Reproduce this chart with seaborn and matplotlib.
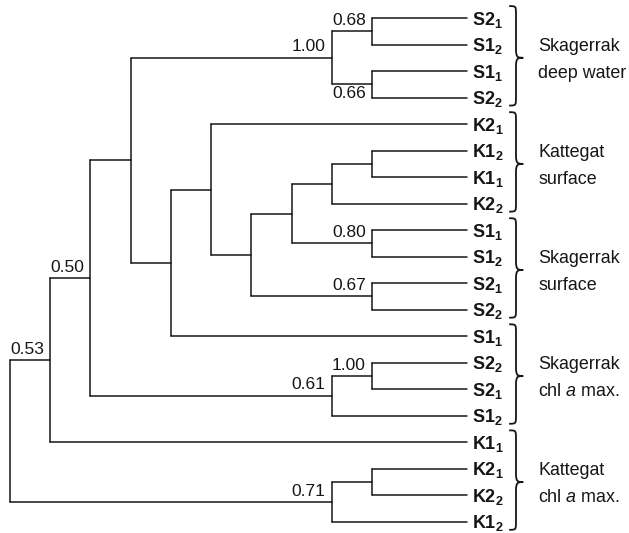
import numpy as np
import pandas as pd
import seaborn as sns
import matplotlib
matplotlib.use("Agg")
import matplotlib.pyplot as plt
from matplotlib.path import Path
from matplotlib.patches import PathPatch

# ---------------- data ----------------
leaf_names = ["S2", "S1", "S1", "S2", "K2", "K1", "K1", "K2", "S1", "S1",
              "S2", "S2", "S1", "S2", "S2", "S1", "K1", "K2", "K2", "K1"]
leaf_subs = ["1", "2", "1", "2", "1", "2", "1", "2", "1", "2",
             "1", "2", "1", "2", "1", "2", "1", "1", "2", "2"]

# merges: node id = 20 + row index; (child_a, child_b)
merge_a = [0, 2, 20, 5, 23, 8, 24, 10, 26, 4, 29, 22, 13, 32, 31, 34, 17, 36, 35]
merge_b = [1, 3, 21, 6, 7, 9, 25, 11, 27, 28, 12, 30, 14, 15, 33, 16, 18, 19, 37]
merge_labels = ["0.68", "0.66", "1.00", None, None, "0.80", None, "0.67", None, None,
                None, None, "1.00", "0.61", "0.50", "0.53", None, "0.71", None]
merge_label_below = [False, True, False, False, False, False, False, False, False, False,
                     False, False, False, False, False, False, False, False, False]

group_first = [0, 4, 8, 12, 16]
group_last = [3, 7, 11, 15, 19]
group_line1 = ["Skagerrak", "Kattegat", "Skagerrak", "Skagerrak", "Kattegat"]
group_line2 = ["deep water", "surface", "surface", "chl $\\mathit{a}$ max.", "chl $\\mathit{a}$ max."]

# ---------------- style ----------------
sns.set_theme(style="white")
plt.rcParams["font.family"] = ["Liberation Sans", "DejaVu Sans"]
plt.rcParams["mathtext.fontset"] = "custom"
plt.rcParams["mathtext.rm"] = "Liberation Sans"
plt.rcParams["mathtext.it"] = "Liberation Sans:italic"
plt.rcParams["mathtext.bf"] = "Liberation Sans:bold"

FS_NODE = 12.5
FS_LEAF = 13
FS_GROUP = 12.9
LC = "#161616"
LW = 1.1
LEAF_END = 1.36

n_leaves = len(leaf_names)
n_nodes = n_leaves + len(merge_a)
height = np.zeros(n_nodes)
ypos = np.zeros(n_nodes)
ypos[:n_leaves] = np.arange(n_leaves)
for k, (a, b) in enumerate(zip(merge_a, merge_b)):
    n = n_leaves + k
    height[n] = max(height[a], height[b]) + 1
    ypos[n] = (ypos[a] + ypos[b]) / 2
xpos = -height


def xend(c):
    return LEAF_END if c < n_leaves else xpos[c]


rows = []
seg = 0
for k, (a, b) in enumerate(zip(merge_a, merge_b)):
    n = n_leaves + k
    rows += [(seg, xpos[n], ypos[a]), (seg, xpos[n], ypos[b])]
    seg += 1
    for c in (a, b):
        rows += [(seg, xpos[n], ypos[c]), (seg, xend(c), ypos[c])]
        seg += 1
df = pd.DataFrame(rows, columns=["seg", "x", "y"])

fig = plt.figure(figsize=(6.29, 5.33), dpi=100)
ax = fig.add_axes([0, 0, 1, 1])
sns.lineplot(data=df, x="x", y="y", units="seg", estimator=None, sort=False,
             color=LC, lw=LW, ax=ax, legend=False)
ax.set_xlim(-10.25, 5.39)
ax.set_ylim(19.42, -0.68)
ax.axis("off")

# node labels
for k, lab in enumerate(merge_labels):
    if lab is None:
        continue
    n = n_leaves + k
    if merge_label_below[k]:
        ax.annotate(lab, (xpos[n], ypos[n]), xytext=(-4.5, -1.5), textcoords="offset points",
                    ha="right", va="top", fontsize=FS_NODE, color=LC)
    else:
        ax.annotate(lab, (xpos[n], ypos[n]), xytext=(-4.5, 2.5), textcoords="offset points",
                    ha="right", va="bottom", fontsize=FS_NODE, color=LC)

# leaf labels
for i, (nm, sb) in enumerate(zip(leaf_names, leaf_subs)):
    txt = r"$\mathbf{%s}_{\mathbf{%s}}$" % (nm, sb)
    ax.annotate(txt, (LEAF_END, i), xytext=(3.6, -0.36 * FS_LEAF), textcoords="offset points",
                ha="left", va="baseline", fontsize=FS_LEAF, color=LC)

# braces and group labels
X0, X1, X2 = 2.41, 2.58, 2.76
for f, l, t1, t2 in zip(group_first, group_last, group_line1, group_line2):
    top = f - 0.45
    bot = l + 0.30
    mid = (f + l) / 2
    r = 0.32
    verts = [
        (X0, top),
        (X1, top), (X1, top), (X1, top + r),
        (X1, mid - r),
        (X1, mid), (X1 + 0.05, mid), (X2, mid),
        (X1 + 0.05, mid), (X1, mid), (X1, mid + r),
        (X1, bot - r),
        (X1, bot), (X1, bot), (X0, bot),
    ]
    codes = [Path.MOVETO,
             Path.CURVE4, Path.CURVE4, Path.CURVE4,
             Path.LINETO,
             Path.CURVE4, Path.CURVE4, Path.CURVE4,
             Path.CURVE4, Path.CURVE4, Path.CURVE4,
             Path.LINETO,
             Path.CURVE4, Path.CURVE4, Path.CURVE4]
    ax.add_patch(PathPatch(Path(verts, codes), fill=False, lw=LW + 0.2, edgecolor=LC))
    ax.annotate(t1, (3.13, mid - 0.5), xytext=(0, -0.36 * FS_GROUP), textcoords="offset points",
                ha="left", va="baseline", fontsize=FS_GROUP, color=LC)
    ax.annotate(t2, (3.13, mid + 0.5), xytext=(0, -0.36 * FS_GROUP), textcoords="offset points",
                ha="left", va="baseline", fontsize=FS_GROUP, color=LC)

fig.savefig("out.png", dpi=100, facecolor="white")
